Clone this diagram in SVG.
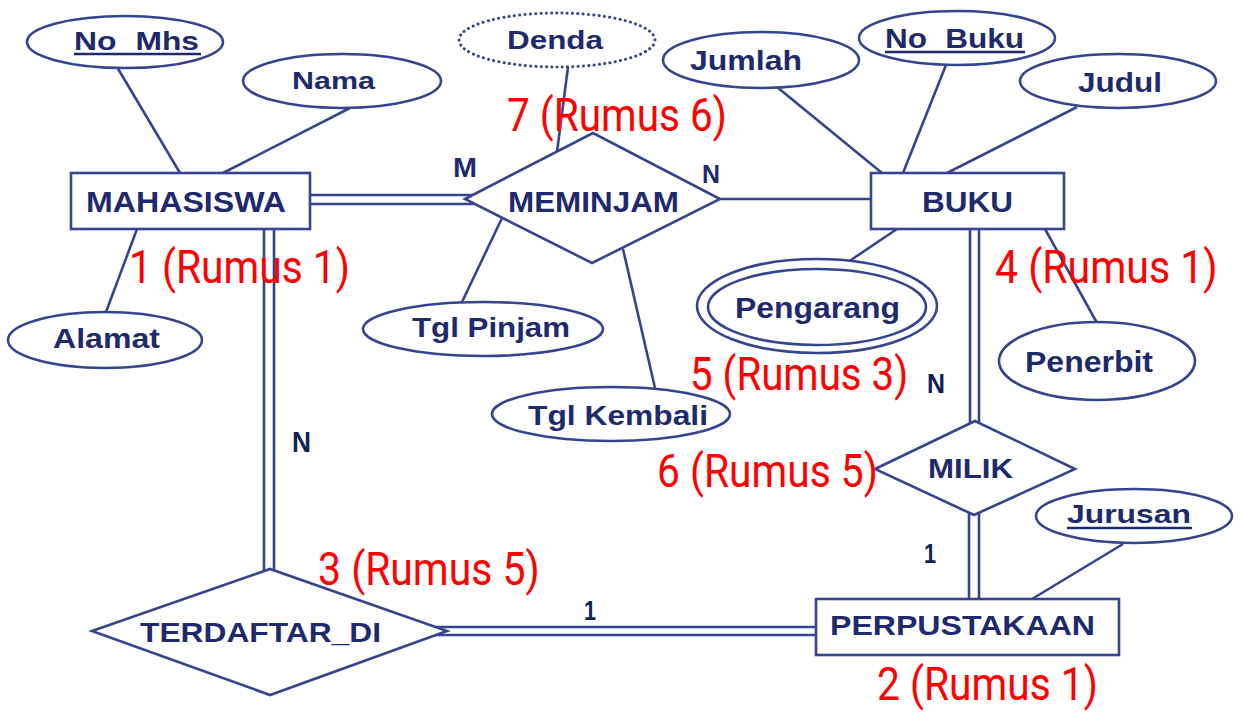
<svg xmlns="http://www.w3.org/2000/svg" width="1242" height="714" viewBox="0 0 1242 714">
  <style>
    .ln { stroke: #36448f; stroke-width: 2.6; fill: none; stroke-linecap: butt; }
    .shape { stroke: #36448f; stroke-width: 2.6; fill: #ffffff; }
    .dotted { stroke: #36448f; stroke-width: 3; fill: #ffffff; stroke-dasharray: 0.1 5.2; stroke-linecap: round; }
    .lbl { font-family: "Liberation Sans", Arial, sans-serif; font-weight: bold; fill: #1e2a6c; }
    .card { font-family: "Liberation Sans", Arial, sans-serif; font-weight: bold; fill: #0b2355; }
    .note { font-family: Roboto, "Liberation Sans", sans-serif; fill: #ff0000; font-size: 46px; }
    .ul { stroke: #1e2a6c; stroke-width: 2.4; }
  </style>

  <rect x="0" y="0" width="1242" height="714" fill="#ffffff"/>

  <!-- connectors -->
  <g id="connectors">
    <!-- MAHASISWA attributes -->
    <line class="ln" x1="117" y1="67" x2="180" y2="173"/>
    <line class="ln" x1="350" y1="108" x2="223" y2="173"/>
    <line class="ln" x1="137" y1="229" x2="106" y2="312"/>
    <!-- MAHASISWA = MEMINJAM (total participation) -->
    <line class="ln" x1="310" y1="195" x2="480" y2="195"/>
    <line class="ln" x1="310" y1="204" x2="480" y2="204"/>
    <!-- MAHASISWA = TERDAFTAR_DI -->
    <line class="ln" x1="264" y1="229" x2="264" y2="585"/>
    <line class="ln" x1="274" y1="229" x2="274" y2="585"/>
    <!-- MEMINJAM attributes -->
    <line class="ln" x1="568" y1="67" x2="557" y2="152"/>
    <line class="ln" x1="502" y1="218" x2="462" y2="302"/>
    <line class="ln" x1="623" y1="249" x2="655" y2="388"/>
    <!-- MEMINJAM - BUKU -->
    <line class="ln" x1="715" y1="199" x2="872" y2="199"/>
    <!-- BUKU attributes -->
    <line class="ln" x1="777" y1="87" x2="882" y2="173"/>
    <line class="ln" x1="946" y1="65" x2="903" y2="173"/>
    <line class="ln" x1="1077" y1="107" x2="947" y2="173"/>
    <line class="ln" x1="897" y1="229" x2="848" y2="262"/>
    <line class="ln" x1="1045" y1="229" x2="1097" y2="323"/>
    <!-- BUKU = MILIK -->
    <line class="ln" x1="970" y1="229" x2="970" y2="440"/>
    <line class="ln" x1="979" y1="229" x2="979" y2="440"/>
    <!-- MILIK = PERPUSTAKAAN -->
    <line class="ln" x1="969" y1="500" x2="969" y2="599"/>
    <line class="ln" x1="979" y1="500" x2="979" y2="599"/>
    <!-- PERPUSTAKAAN attribute -->
    <line class="ln" x1="1123" y1="544" x2="1032" y2="599"/>
    <!-- TERDAFTAR_DI = PERPUSTAKAAN -->
    <line class="ln" x1="430" y1="627" x2="816" y2="627"/>
    <line class="ln" x1="430" y1="635" x2="816" y2="635"/>
  </g>

  <!-- entities -->
  <g id="mahasiswa">
    <rect class="shape" x="71" y="173" width="239" height="56"/>
    <text class="lbl" x="86" y="212" font-size="29" textLength="200" lengthAdjust="spacingAndGlyphs">MAHASISWA</text>
  </g>
  <g id="buku">
    <rect class="shape" x="871" y="173" width="193" height="56"/>
    <text class="lbl" x="922" y="212" font-size="29" textLength="91" lengthAdjust="spacingAndGlyphs">BUKU</text>
  </g>
  <g id="perpustakaan">
    <rect class="shape" x="816" y="599" width="303" height="56"/>
    <text class="lbl" x="830" y="635" font-size="28" textLength="265" lengthAdjust="spacingAndGlyphs">PERPUSTAKAAN</text>
  </g>

  <!-- relationships -->
  <g id="meminjam">
    <polygon class="shape" points="465,199 593,133 720,199 592,263"/>
    <text class="lbl" x="508" y="212" font-size="29" textLength="171" lengthAdjust="spacingAndGlyphs">MEMINJAM</text>
  </g>
  <g id="milik">
    <polygon class="shape" points="875,469 975,421 1075,469 974,515"/>
    <text class="lbl" x="928" y="478" font-size="28" textLength="85" lengthAdjust="spacingAndGlyphs">MILIK</text>
  </g>
  <g id="terdaftar_di">
    <polygon class="shape" points="92,631 270,569 447,631 270,695"/>
    <text class="lbl" x="140" y="642" font-size="28" textLength="241" lengthAdjust="spacingAndGlyphs">TERDAFTAR_DI</text>
  </g>

  <!-- attributes -->
  <g id="attr-no-mhs">
    <ellipse class="shape" cx="125" cy="42" rx="98" ry="26"/>
    <text class="lbl" x="74" y="50" font-size="25" textLength="125" lengthAdjust="spacingAndGlyphs" word-spacing="8">No Mhs</text>
    <line class="ul" x1="74" y1="54" x2="201" y2="54"/>
  </g>
  <g id="attr-nama">
    <ellipse class="shape" cx="342" cy="81" rx="99" ry="27"/>
    <text class="lbl" x="292" y="89" font-size="24" textLength="83" lengthAdjust="spacingAndGlyphs">Nama</text>
  </g>
  <g id="attr-alamat">
    <ellipse class="shape" cx="105" cy="340" rx="97" ry="28"/>
    <text class="lbl" x="53" y="348" font-size="27" textLength="107" lengthAdjust="spacingAndGlyphs">Alamat</text>
  </g>
  <g id="attr-denda">
    <ellipse class="dotted" cx="557" cy="40" rx="98" ry="27"/>
    <text class="lbl" x="507" y="49" font-size="26" textLength="96" lengthAdjust="spacingAndGlyphs">Denda</text>
  </g>
  <g id="attr-tgl-pinjam">
    <ellipse class="shape" cx="483" cy="329" rx="120" ry="27"/>
    <text class="lbl" x="412" y="337" font-size="28" textLength="158" lengthAdjust="spacingAndGlyphs">Tgl Pinjam</text>
  </g>
  <g id="attr-tgl-kembali">
    <ellipse class="shape" cx="611" cy="414" rx="119" ry="27"/>
    <text class="lbl" x="528" y="425" font-size="28" textLength="180" lengthAdjust="spacingAndGlyphs">Tgl Kembali</text>
  </g>
  <g id="attr-jumlah">
    <ellipse class="shape" cx="761" cy="60" rx="98" ry="28"/>
    <text class="lbl" x="690" y="70" font-size="27" textLength="112" lengthAdjust="spacingAndGlyphs">Jumlah</text>
  </g>
  <g id="attr-no-buku">
    <ellipse class="shape" cx="957" cy="38" rx="98" ry="27"/>
    <text class="lbl" x="885" y="48" font-size="27" textLength="139" lengthAdjust="spacingAndGlyphs" word-spacing="8">No Buku</text>
    <line class="ul" x1="885" y1="52" x2="1025" y2="52"/>
  </g>
  <g id="attr-judul">
    <ellipse class="shape" cx="1118" cy="81" rx="98" ry="27"/>
    <text class="lbl" x="1078" y="92" font-size="28" textLength="84" lengthAdjust="spacingAndGlyphs">Judul</text>
  </g>
  <g id="attr-pengarang">
    <ellipse class="shape" cx="817" cy="306" rx="120" ry="47"/>
    <ellipse class="shape" cx="817" cy="307" rx="109" ry="38"/>
    <text class="lbl" x="735" y="318" font-size="29" textLength="165" lengthAdjust="spacingAndGlyphs">Pengarang</text>
  </g>
  <g id="attr-penerbit">
    <ellipse class="shape" cx="1097" cy="361" rx="98" ry="39"/>
    <text class="lbl" x="1025" y="372" font-size="29" textLength="128" lengthAdjust="spacingAndGlyphs">Penerbit</text>
  </g>
  <g id="attr-jurusan">
    <ellipse class="shape" cx="1134" cy="516" rx="98" ry="27"/>
    <text class="lbl" x="1067" y="523" font-size="25" textLength="124" lengthAdjust="spacingAndGlyphs">Jurusan</text>
    <line class="ul" x1="1067" y1="528" x2="1192" y2="528"/>
  </g>

  <!-- cardinalities -->
  <g id="cardinality">
    <text class="lbl" x="453" y="177" font-size="27" textLength="24" lengthAdjust="spacingAndGlyphs">M</text>
    <text class="lbl" x="702" y="183" font-size="26" textLength="18" lengthAdjust="spacingAndGlyphs">N</text>
    <text class="card" x="292" y="452" font-size="29" textLength="19" lengthAdjust="spacingAndGlyphs">N</text>
    <text class="card" x="927" y="393" font-size="28" textLength="18" lengthAdjust="spacingAndGlyphs">N</text>
    <text class="card" x="924" y="563" font-size="28" textLength="12" lengthAdjust="spacingAndGlyphs">1</text>
    <text class="card" x="584" y="620" font-size="28" textLength="12" lengthAdjust="spacingAndGlyphs">1</text>
  </g>

  <!-- step annotations (condensed red labels) -->
  <g id="annotations">
    <text class="note" transform="translate(129,283) scale(0.88,1)" textLength="251" lengthAdjust="spacingAndGlyphs">1 (Rumus 1)</text>
    <text class="note" transform="translate(877,700) scale(0.88,1)" textLength="251" lengthAdjust="spacingAndGlyphs">2 (Rumus 1)</text>
    <text class="note" transform="translate(318,585) scale(0.88,1)" textLength="252" lengthAdjust="spacingAndGlyphs">3 (Rumus 5)</text>
    <text class="note" transform="translate(995,283) scale(0.88,1)" textLength="253" lengthAdjust="spacingAndGlyphs">4 (Rumus 1)</text>
    <text class="note" transform="translate(690,390) scale(0.88,1)" textLength="248" lengthAdjust="spacingAndGlyphs">5 (Rumus 3)</text>
    <text class="note" transform="translate(657,487) scale(0.88,1)" textLength="251" lengthAdjust="spacingAndGlyphs">6 (Rumus 5)</text>
    <text class="note" transform="translate(507,131) scale(0.88,1)" textLength="250" lengthAdjust="spacingAndGlyphs">7 (Rumus 6)</text>
  </g>
</svg>
